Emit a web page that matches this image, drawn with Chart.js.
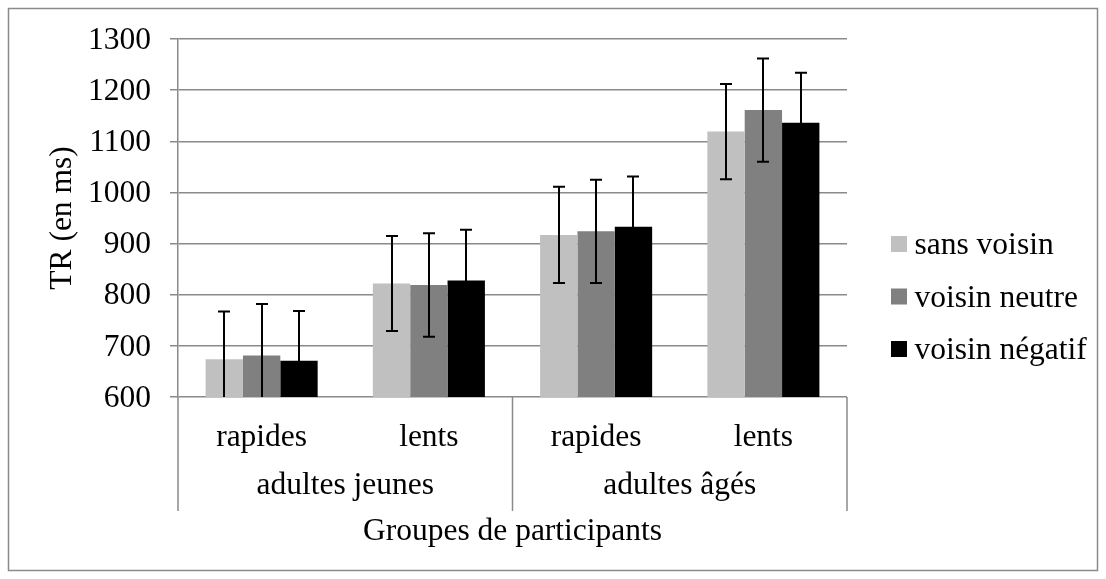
<!DOCTYPE html>
<html>
<head>
<meta charset="utf-8">
<script src="https://cdn.jsdelivr.net/npm/chart.js@4.4.1/dist/chart.umd.min.js"></script>
<style>
  html, body { margin: 0; padding: 0; background: #ffffff; }
  #wrap { position: relative; width: 1106px; height: 579px; }
</style>
</head>
<body>
<div id="wrap"><canvas id="c" width="1106" height="579"></canvas></div>
<script>
// ---- data ----
const categories = ['rapides', 'lents', 'rapides', 'lents'];
const groups = ['adultes jeunes', 'adultes âgés'];
const seriesNames = ['sans voisin', 'voisin neutre', 'voisin négatif'];
const sansVoisin = [674, 822, 917, 1119];
const voisinNeutre = [681, 819, 924, 1161];
const voisinNegatif = [671, 828, 933, 1136];
const errSansVoisin = [93, 93, 94, 93];
const errVoisinNeutre = [101, 101, 101, 101];
const errVoisinNegatif = [97, 99, 98, 98];
const yTicks = [600, 700, 800, 900, 1000, 1100, 1200, 1300];
const yTitle = 'TR (en ms)';
const xTitle = 'Groupes de participants';

const FONT = "'Liberation Serif', 'Times New Roman', serif";
const FS = 31.5;
const FS_TICK = 31.5;
const GRID = '#8a8a8a';
const colors = ['#c0c0c0', '#808080', '#000000'];
const errors = [errSansVoisin, errVoisinNeutre, errVoisinNegatif];

const frame = {
  id: 'frame',
  beforeDraw(chart) {
    const ctx = chart.ctx;
    ctx.save();
    ctx.fillStyle = '#fff';
    ctx.fillRect(0, 0, chart.width, chart.height);
    ctx.strokeStyle = GRID;
    ctx.lineWidth = 1.5;
    ctx.strokeRect(8.5, 8.5, chart.width - 17, chart.height - 17);
    ctx.restore();
  }
};

const errorBars = {
  id: 'errorBars',
  afterDatasetsDraw(chart) {
    const ctx = chart.ctx;
    const y = chart.scales.y;
    const a = chart.chartArea;
    ctx.save();
    ctx.beginPath();
    ctx.rect(a.left, a.top - 40, a.right - a.left, a.bottom - a.top + 40);
    ctx.clip();
    ctx.strokeStyle = '#000';
    ctx.lineWidth = 2;
    chart.data.datasets.forEach((ds, di) => {
      const meta = chart.getDatasetMeta(di);
      meta.data.forEach((bar, i) => {
        const v = ds.data[i], e = errors[di][i];
        const x = Math.round(bar.x);
        const yt = y.getPixelForValue(v + e);
        const yb = y.getPixelForValue(v - e);
        ctx.beginPath();
        ctx.moveTo(x, yt); ctx.lineTo(x, yb);
        ctx.moveTo(x - 6, yt); ctx.lineTo(x + 6, yt);
        ctx.moveTo(x - 6, yb); ctx.lineTo(x + 6, yb);
        ctx.stroke();
      });
    });
    ctx.restore();
  }
};

const groupAxis = {
  id: 'groupAxis',
  afterDraw(chart) {
    const ctx = chart.ctx;
    const x = chart.scales.x;
    const area = chart.chartArea;
    const bounds = [x.left, (x.getPixelForValue(1) + x.getPixelForValue(2)) / 2, x.right];
    ctx.save();
    ctx.strokeStyle = GRID;
    ctx.lineWidth = 1.5;
    bounds.forEach(b => {
      ctx.beginPath();
      ctx.moveTo(b, area.bottom);
      ctx.lineTo(b, area.bottom + 114);
      ctx.stroke();
    });
    ctx.fillStyle = '#000';
    ctx.font = FS + 'px ' + FONT;
    ctx.textAlign = 'center';
    ctx.textBaseline = 'middle';
    groups.forEach((g, gi) => {
      const cx = (x.getPixelForValue(gi * 2) + x.getPixelForValue(gi * 2 + 1)) / 2;
      ctx.fillText(g, cx, area.bottom + 88.5);
    });
    ctx.restore();
  }
};

const customLegend = {
  id: 'customLegend',
  afterDraw(chart) {
    const ctx = chart.ctx;
    const area = chart.chartArea;
    const left = area.right + 44;
    const step = 52.5;
    const cy = chart.height / 2 + 7;
    ctx.save();
    ctx.font = FS + 'px ' + FONT;
    ctx.textBaseline = 'middle';
    ctx.textAlign = 'left';
    chart.data.datasets.forEach((ds, i) => {
      const yy = cy + (i - 1) * step;
      ctx.fillStyle = ds.backgroundColor;
      ctx.fillRect(left, yy - 8, 16, 16);
      ctx.fillStyle = '#000';
      ctx.fillText(ds.label, left + 23.5, yy + 2);
    });
    ctx.restore();
  }
};

new Chart(document.getElementById('c'), {
  type: 'bar',
  data: {
    labels: categories,
    datasets: [
      { label: seriesNames[0], data: sansVoisin, backgroundColor: colors[0] },
      { label: seriesNames[1], data: voisinNeutre, backgroundColor: colors[1] },
      { label: seriesNames[2], data: voisinNegatif, backgroundColor: colors[2] }
    ]
  },
  options: {
    responsive: false,
    animation: false,
    devicePixelRatio: 1,
    layout: { padding: { left: 30, top: 39, right: 259, bottom: 0 } },
    datasets: { bar: { categoryPercentage: 0.67, barPercentage: 1.0, borderWidth: 0 } },
    plugins: { legend: { display: false }, tooltip: { enabled: false } },
    scales: {
      x: {
        grid: { display: false, drawTicks: false },
        border: { display: false },
        ticks: { color: '#000', font: { family: FONT, size: FS }, padding: 21.5 },
        title: { display: true, text: xTitle, color: '#000', font: { family: FONT, size: FS }, padding: { top: 0, bottom: 28.5 } },
        afterFit(scale) { scale.height = 182; }
      },
      y: {
        min: 600, max: 1300,
        afterBuildTicks(scale) { scale.ticks = yTicks.map(v => ({ value: v })); },
        grid: { color: GRID, lineWidth: 1.5, tickLength: 8 },
        border: { color: GRID, width: 1.5 },
        ticks: { color: '#000', font: { family: FONT, size: FS_TICK }, padding: 19, labelOffset: 1.5, callback: v => String(v) },
        title: { display: true, text: yTitle, color: '#000', font: { family: FONT, size: FS }, padding: { top: 14, bottom: 0 } },
        afterFit(scale) { scale.width = 148; }
      }
    }
  },
  plugins: [frame, errorBars, groupAxis, customLegend]
});
</script>
</body>
</html>
